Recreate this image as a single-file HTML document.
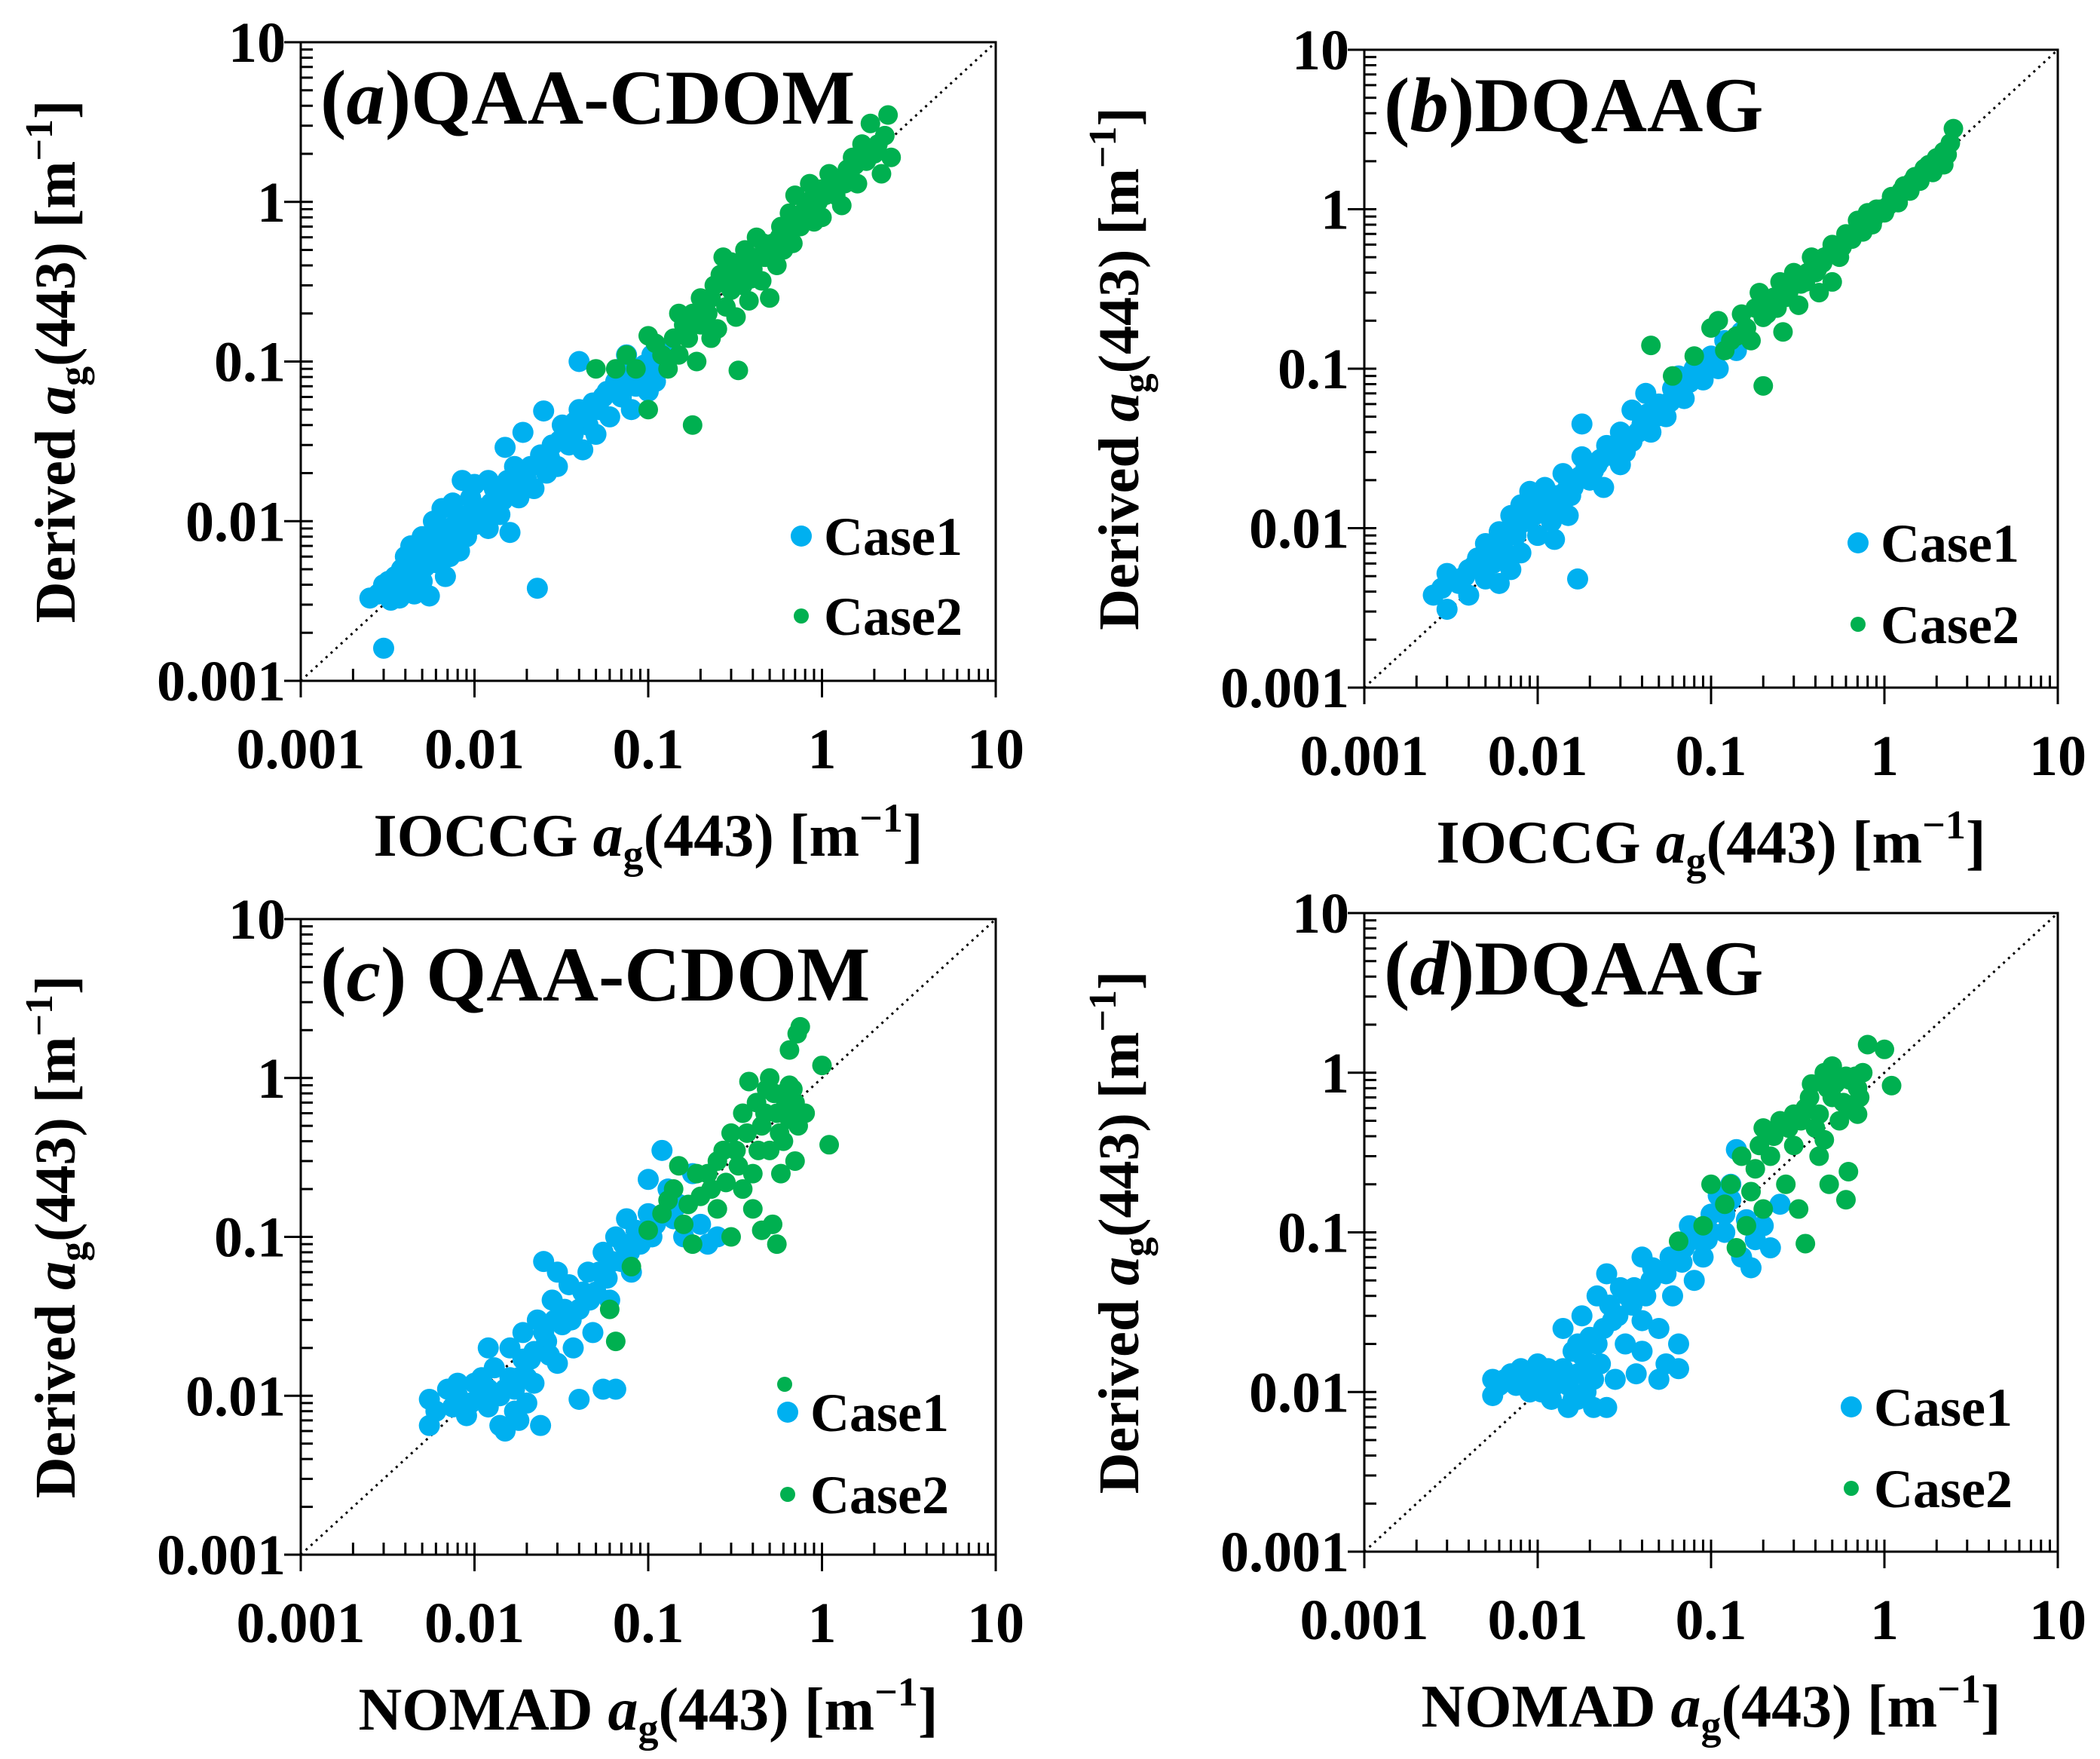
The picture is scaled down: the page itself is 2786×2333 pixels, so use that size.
<!DOCTYPE html>
<html><head><meta charset="utf-8"><style>
html,body{margin:0;padding:0;background:#fff;}
svg{display:block;font-family:"Liberation Serif",serif;font-weight:bold;}
svg text{font-family:"Liberation Serif",serif;font-weight:bold;}
</style></head><body>
<svg id="fig" width="2786" height="2333" viewBox="0 0 2786 2333" xmlns="http://www.w3.org/2000/svg"></svg>
<script>
const ticks = [0.001, 0.01, 0.1, 1, 10];
const tickLabels = ["0.001", "0.01", "0.1", "1", "10"];

const aCase1 = [[0.0025,0.0033],[0.0028,0.0035],[0.003,0.0016],[0.003,0.004],[0.0033,0.0032],[0.0035,0.0045],[0.0037,0.0033],[0.004,0.006],[0.004,0.0038],[0.0043,0.007],[0.0045,0.0035],[0.0047,0.005],[0.005,0.008],[0.005,0.0042],[0.0053,0.006],[0.0055,0.0034],[0.0058,0.01],[0.006,0.0055],[0.0062,0.0075],[0.0065,0.012],[0.0068,0.0045],[0.007,0.009],[0.0072,0.006],[0.0075,0.013],[0.008,0.0105],[0.0082,0.0065],[0.0085,0.018],[0.009,0.008],[0.0095,0.014],[0.01,0.017],[0.01,0.0095],[0.011,0.012],[0.012,0.018],[0.012,0.009],[0.013,0.016],[0.014,0.011],[0.015,0.029],[0.016,0.0085],[0.017,0.022],[0.018,0.014],[0.019,0.036],[0.02,0.018],[0.022,0.016],[0.023,0.0038],[0.024,0.026],[0.025,0.049],[0.026,0.02],[0.028,0.03],[0.03,0.022],[0.032,0.04],[0.035,0.03],[0.037,0.035],[0.04,0.1],[0.04,0.05],[0.042,0.028],[0.045,0.04],[0.048,0.055],[0.05,0.035],[0.055,0.06],[0.06,0.045],[0.065,0.075],[0.07,0.06],[0.075,0.11],[0.08,0.05],[0.085,0.07],[0.09,0.085],[0.1,0.065],[0.11,0.1],[0.12,0.12],[0.11,0.075],
[0.0032,0.0042],[0.0038,0.005],[0.0042,0.0045],[0.0046,0.0062],[0.0052,0.0052],[0.0057,0.0068],[0.0063,0.0085],[0.0067,0.0065],[0.0073,0.0078],[0.0078,0.0095],[0.0088,0.0088],[0.0092,0.011],[0.0105,0.0115],[0.0115,0.0105],[0.0125,0.013],[0.0135,0.0145],[0.0145,0.0135],[0.0155,0.018],[0.0165,0.016],[0.0175,0.019],[0.021,0.022],[0.027,0.025],[0.031,0.032],[0.034,0.038],[0.038,0.042],[0.044,0.048],[0.052,0.05],[0.058,0.065],[0.068,0.07],[0.078,0.085],[0.095,0.095],[0.105,0.11]];
const aCase2 = [[0.05,0.09],[0.065,0.09],[0.075,0.11],[0.085,0.09],[0.1,0.05],[0.1,0.145],[0.11,0.13],[0.13,0.09],[0.15,0.2],[0.15,0.11],[0.17,0.14],[0.18,0.04],[0.19,0.1],[0.2,0.17],[0.2,0.25],[0.22,0.2],[0.24,0.3],[0.25,0.16],[0.26,0.35],[0.28,0.22],[0.3,0.28],[0.3,0.42],[0.32,0.19],[0.33,0.088],[0.35,0.3],[0.36,0.5],[0.38,0.24],[0.4,0.38],[0.42,0.6],[0.45,0.32],[0.47,0.45],[0.5,0.25],[0.52,0.55],[0.55,0.4],[0.58,0.7],[0.6,0.5],[0.65,0.85],[0.68,0.55],[0.7,1.1],[0.75,0.7],[0.8,0.9],[0.85,1.3],[0.9,0.75],[0.95,1.0],[1.0,0.8],[1.1,1.5],[1.2,1.1],[1.3,0.95],[1.4,1.6],[1.5,1.9],[1.6,1.3],[1.7,2.3],[1.8,1.8],[1.9,3.1],[2.0,2.0],[2.2,1.5],[2.3,2.6],[2.4,3.5],[2.5,1.9],[0.23,0.14],[0.27,0.45],
[0.12,0.11],[0.14,0.14],[0.16,0.17],[0.18,0.2],[0.21,0.22],[0.23,0.25],[0.29,0.32],[0.31,0.35],[0.34,0.36],[0.37,0.4],[0.39,0.33],[0.43,0.45],[0.46,0.55],[0.49,0.48],[0.53,0.5],[0.57,0.6],[0.62,0.65],[0.67,0.7],[0.72,0.8],[0.78,0.85],[0.82,1.0],[0.88,0.9],[0.92,1.15],[0.98,1.2],[1.05,1.1],[1.15,1.3],[1.25,1.4],[1.35,1.3],[1.45,1.5],[1.55,1.7],[1.75,2.0],[2.1,2.3]];
const bCase1 = [[0.0025,0.0038],[0.003,0.0031],[0.003,0.0052],[0.0035,0.0045],[0.004,0.0055],[0.004,0.0038],[0.0045,0.0065],[0.005,0.0048],[0.005,0.008],[0.0055,0.006],[0.006,0.0095],[0.006,0.0045],[0.0065,0.007],[0.007,0.012],[0.007,0.0055],[0.0075,0.009],[0.008,0.014],[0.008,0.007],[0.0085,0.011],[0.009,0.017],[0.01,0.009],[0.01,0.013],[0.011,0.018],[0.012,0.011],[0.013,0.016],[0.014,0.022],[0.015,0.012],[0.016,0.018],[0.017,0.0048],[0.018,0.028],[0.018,0.045],[0.02,0.02],[0.022,0.025],[0.024,0.018],[0.025,0.033],[0.028,0.028],[0.03,0.04],[0.032,0.03],[0.035,0.055],[0.035,0.035],[0.04,0.045],[0.042,0.07],[0.045,0.04],[0.05,0.06],[0.055,0.05],[0.06,0.075],[0.065,0.09],[0.07,0.065],[0.08,0.1],[0.09,0.085],[0.1,0.12],[0.11,0.1],[0.12,0.15],[0.14,0.13],[0.15,0.17],[0.03,0.025],[0.015,0.02],[0.0125,0.0085],
[0.0028,0.0042],[0.0033,0.0048],[0.0038,0.005],[0.0043,0.0058],[0.0048,0.0062],[0.0053,0.0068],[0.0058,0.0072],[0.0063,0.0082],[0.0068,0.009],[0.0073,0.0095],[0.0078,0.0105],[0.0088,0.0115],[0.0095,0.012],[0.0105,0.014],[0.0115,0.015],[0.013,0.013],[0.0145,0.017],[0.0155,0.016],[0.0175,0.021],[0.019,0.024],[0.021,0.023],[0.023,0.027],[0.027,0.031],[0.031,0.035],[0.038,0.04],[0.043,0.052],[0.048,0.05],[0.058,0.062],[0.068,0.075],[0.075,0.082],[0.085,0.095],[0.095,0.1],[0.13,0.14]];
const bCase2 = [[0.045,0.14],[0.06,0.09],[0.08,0.12],[0.1,0.18],[0.11,0.2],[0.12,0.13],[0.14,0.16],[0.15,0.22],[0.17,0.15],[0.19,0.3],[0.2,0.078],[0.21,0.22],[0.23,0.28],[0.25,0.35],[0.26,0.17],[0.28,0.3],[0.3,0.4],[0.32,0.25],[0.35,0.35],[0.38,0.5],[0.4,0.4],[0.42,0.3],[0.45,0.5],[0.5,0.6],[0.55,0.5],[0.6,0.7],[0.65,0.65],[0.7,0.85],[0.75,0.72],[0.8,0.95],[0.85,0.8],[0.9,1.0],[1.0,0.95],[1.1,1.2],[1.2,1.1],[1.3,1.4],[1.4,1.3],[1.5,1.6],[1.6,1.5],[1.7,1.8],[1.9,1.7],[2.0,2.1],[2.2,1.9],[2.4,2.6],[2.5,3.2],[2.3,2.2],[0.5,0.35],[0.18,0.24],
[0.13,0.15],[0.16,0.18],[0.2,0.21],[0.22,0.25],[0.24,0.24],[0.27,0.28],[0.29,0.33],[0.33,0.34],[0.36,0.4],[0.41,0.42],[0.44,0.46],[0.48,0.52],[0.52,0.55],[0.57,0.58],[0.62,0.65],[0.68,0.72],[0.73,0.78],[0.78,0.82],[0.87,0.88],[0.95,1.0],[1.05,1.05],[1.15,1.15],[1.25,1.3],[1.35,1.35],[1.45,1.5],[1.65,1.65],[1.8,1.9],[2.1,2.0],[2.2,2.3]];
const cCase1 = [[0.0055,0.0065],[0.0055,0.0095],[0.006,0.008],[0.007,0.011],[0.0075,0.0085],[0.008,0.01],[0.009,0.0075],[0.01,0.012],[0.011,0.01],[0.012,0.0085],[0.013,0.015],[0.014,0.0065],[0.015,0.006],[0.015,0.011],[0.016,0.02],[0.017,0.008],[0.018,0.013],[0.019,0.025],[0.02,0.009],[0.021,0.017],[0.022,0.012],[0.023,0.03],[0.024,0.0065],[0.025,0.07],[0.026,0.022],[0.028,0.04],[0.03,0.016],[0.032,0.028],[0.035,0.05],[0.037,0.02],[0.04,0.035],[0.04,0.0095],[0.045,0.06],[0.048,0.025],[0.05,0.045],[0.055,0.011],[0.055,0.08],[0.06,0.04],[0.065,0.011],[0.065,0.1],[0.07,0.07],[0.075,0.13],[0.08,0.06],[0.085,0.11],[0.09,0.09],[0.1,0.23],[0.1,0.14],[0.11,0.12],[0.12,0.35],[0.13,0.2],[0.15,0.16],[0.18,0.25],[0.2,0.12],[0.22,0.09],[0.25,0.1],[0.16,0.1],[0.03,0.06],
[0.008,0.012],[0.0095,0.009],[0.011,0.013],[0.012,0.011],[0.014,0.01],[0.016,0.013],[0.017,0.011],[0.019,0.017],[0.02,0.013],[0.022,0.019],[0.025,0.025],[0.027,0.018],[0.029,0.03],[0.033,0.035],[0.036,0.03],[0.042,0.045],[0.046,0.04],[0.052,0.06],[0.058,0.055],[0.062,0.07],[0.072,0.09],[0.078,0.08],[0.095,0.11],[0.105,0.1],[0.14,0.13],[0.012,0.02],[0.018,0.007]];
const cCase2 = [[0.06,0.035],[0.065,0.022],[0.08,0.065],[0.1,0.11],[0.12,0.14],[0.14,0.2],[0.15,0.28],[0.16,0.12],[0.18,0.09],[0.2,0.18],[0.22,0.25],[0.25,0.3],[0.25,0.15],[0.28,0.22],[0.3,0.45],[0.32,0.35],[0.35,0.6],[0.35,0.2],[0.38,0.95],[0.4,0.25],[0.4,0.15],[0.42,0.7],[0.45,0.5],[0.45,0.11],[0.48,0.85],[0.5,0.35],[0.5,1.0],[0.52,0.12],[0.55,0.6],[0.55,0.09],[0.6,0.8],[0.6,0.4],[0.65,0.9],[0.65,0.55],[0.7,0.7],[0.7,0.3],[0.72,1.9],[0.75,2.1],[0.8,0.6],[0.65,1.5],[1.0,1.2],[1.1,0.38],[0.58,0.25],[0.3,0.1],
[0.13,0.17],[0.17,0.16],[0.19,0.25],[0.23,0.2],[0.27,0.35],[0.33,0.28],[0.37,0.45],[0.43,0.35],[0.47,0.6],[0.53,0.8],[0.57,0.45],[0.62,0.7],[0.68,0.85],[0.73,0.5]];
const dCase1 = [[0.0055,0.0095],[0.0055,0.012],[0.006,0.011],[0.007,0.013],[0.0075,0.011],[0.008,0.014],[0.009,0.01],[0.01,0.015],[0.011,0.011],[0.012,0.009],[0.013,0.012],[0.014,0.025],[0.015,0.008],[0.016,0.018],[0.017,0.009],[0.018,0.03],[0.019,0.013],[0.02,0.022],[0.021,0.008],[0.022,0.04],[0.023,0.015],[0.025,0.055],[0.025,0.008],[0.027,0.028],[0.028,0.012],[0.03,0.045],[0.032,0.02],[0.035,0.035],[0.037,0.013],[0.04,0.07],[0.04,0.018],[0.045,0.05],[0.05,0.025],[0.05,0.012],[0.055,0.015],[0.06,0.04],[0.065,0.02],[0.065,0.014],[0.07,0.08],[0.075,0.11],[0.08,0.05],[0.085,0.1],[0.09,0.07],[0.1,0.13],[0.11,0.17],[0.12,0.1],[0.13,0.2],[0.14,0.33],[0.15,0.07],[0.16,0.12],[0.17,0.06],[0.18,0.09],[0.2,0.11],[0.22,0.08],[0.25,0.15],[0.1,0.1],[0.04,0.028],
[0.0065,0.012],[0.0085,0.012],[0.0095,0.013],[0.0105,0.01],[0.0115,0.014],[0.0125,0.011],[0.014,0.014],[0.015,0.011],[0.016,0.009],[0.017,0.013],[0.018,0.017],[0.019,0.01],[0.02,0.015],[0.021,0.012],[0.022,0.02],[0.024,0.025],[0.026,0.035],[0.029,0.03],[0.033,0.04],[0.036,0.045],[0.042,0.04],[0.046,0.06],[0.055,0.055],[0.058,0.07],[0.068,0.065],[0.078,0.09],[0.095,0.09],[0.12,0.13],[0.13,0.16],[0.017,0.02]];
const dCase2 = [[0.065,0.088],[0.09,0.11],[0.1,0.2],[0.12,0.15],[0.14,0.08],[0.15,0.3],[0.16,0.11],[0.18,0.25],[0.2,0.14],[0.2,0.45],[0.22,0.3],[0.25,0.5],[0.27,0.2],[0.3,0.35],[0.32,0.14],[0.35,0.085],[0.35,0.6],[0.38,0.85],[0.4,0.45],[0.42,0.3],[0.45,1.0],[0.48,0.2],[0.5,0.7],[0.5,1.1],[0.55,0.5],[0.55,0.9],[0.6,0.16],[0.6,0.95],[0.62,0.24],[0.65,0.6],[0.7,0.8],[0.7,0.55],[0.75,1.0],[0.8,1.5],[1.0,1.4],[1.1,0.83],[0.3,0.55],[0.45,0.38],
[0.13,0.2],[0.17,0.18],[0.19,0.35],[0.23,0.4],[0.28,0.45],[0.33,0.5],[0.37,0.7],[0.42,0.55],[0.47,0.8],[0.52,0.85],[0.58,0.65],[0.63,0.9],[0.68,0.95],[0.72,0.7]];

const NS = "http://www.w3.org/2000/svg";
const svg = document.getElementById('fig');
function mk(tag, attrs, parent){ const e=document.createElementNS(NS,tag); for(const k in attrs) e.setAttribute(k,attrs[k]); (parent||svg).appendChild(e); return e; }

const BLUE="#00B0F0", GREEN="#00B050";
const FONT='Liberation Serif, serif';
const panels = [
  {id:'a', L:399,R:1321,T:56,B:903, c1:aCase1, c2:aCase2, lab:'a', title:'QAA-CDOM', sp:false, xt:'IOCCG', leg:[1063,711,817], extra:false},
  {id:'b', L:1810,R:2730,T:66,B:912, c1:bCase1, c2:bCase2, lab:'b', title:'DQAAG', sp:false, xt:'IOCCG', leg:[2465,720,828], extra:false},
  {id:'c', L:399,R:1321,T:1219,B:2062, c1:cCase1, c2:cCase2, lab:'c', title:'QAA-CDOM', sp:true, xt:'NOMAD', leg:[1045,1873,1982], extra:true},
  {id:'d', L:1810,R:2730,T:1211,B:2058, c1:dCase1, c2:dCase2, lab:'d', title:'DQAAG', sp:false, xt:'NOMAD', leg:[2456,1866,1974], extra:false}
];

panels.forEach(p=>{
  const g = mk('g',{'font-family':FONT,'font-weight':'bold'});
  
  
  const xs = v => p.L + (Math.log10(v)+3)/4*(p.R-p.L);
  const ys = v => p.B - (Math.log10(v)+3)/4*(p.B-p.T);
  const fr = mk('rect',{x:p.L,y:p.T,width:p.R-p.L,height:p.B-p.T,fill:'none',stroke:'#000','stroke-width':3},g);
  
  
  for(let d=0; d<4; d++){
    const base = ticks[d];
    for(let m=2;m<=9;m++){
      const v=base*m;
      mk('line',{x1:xs(v),x2:xs(v),y1:p.B,y2:p.B-16,stroke:'#000','stroke-width':3},g);
      mk('line',{x1:p.L,x2:p.L+16,y1:ys(v),y2:ys(v),stroke:'#000','stroke-width':3},g);
    }
  }
  ticks.forEach((v,i)=>{
    mk('line',{x1:xs(v),x2:xs(v),y1:p.B-16,y2:p.B+22,stroke:'#000','stroke-width':3},g);
    mk('line',{x1:p.L-22,x2:p.L+16,y1:ys(v),y2:ys(v),stroke:'#000','stroke-width':3},g);
    const tx = mk('text',{x:xs(v),y:p.B+116,'font-size':76,'text-anchor':'middle'},g);
    tx.textContent = tickLabels[i];
    
    
    const ty = mk('text',{x:p.L-20,y:ys(v)+26,'font-size':76,'text-anchor':'end'},g);
    ty.textContent = tickLabels[i];
    
    
  });
  const ol = mk('line',{x1:xs(0.001),y1:ys(0.001),x2:xs(10),y2:ys(10),stroke:'#000','stroke-width':3,'stroke-dasharray':'3,6'},g);
  
  
  p.c1.forEach(pt=>{
    const c = mk('circle',{cx:xs(pt[0]),cy:ys(pt[1]),r:14,fill:BLUE},g);
    
    
  });
  p.c2.forEach(pt=>{
    const c = mk('circle',{cx:xs(pt[0]),cy:ys(pt[1]),r:13,fill:GREEN},g);
    
    
  });
  const tt = mk('text',{x:p.L+26,y:p.T+108,'font-size':103},g);
  
  
  tt.innerHTML = '(<tspan font-style="italic">'+p.lab+'</tspan>)'+(p.sp?' ':'')+p.title;
  const lc1 = mk('circle',{cx:p.leg[0],cy:p.leg[1],r:14,fill:BLUE},g);
  
  
  const lt1 = mk('text',{x:p.leg[0]+30,y:p.leg[1]+25,'font-size':72},g);
  lt1.textContent='Case1';
  
  
  const lc2 = mk('circle',{cx:p.leg[0],cy:p.leg[2],r:10,fill:GREEN},g);
  
  
  const lt2 = mk('text',{x:p.leg[0]+30,y:p.leg[2]+25,'font-size':72},g);
  lt2.textContent='Case2';
  
  
  if(p.extra){
    const ex = mk('circle',{cx:p.leg[0]-4,cy:p.leg[1]-37,r:10,fill:GREEN},g);
    
    
  }
  const xtl = mk('text',{x:(p.L+p.R)/2,y:p.B+232,'font-size':80,'text-anchor':'middle'},g);
  
  
  xtl.innerHTML = p.xt+' <tspan font-style="italic">a</tspan><tspan font-size="54" dy="16">g</tspan><tspan dy="-16">(443) [m</tspan><tspan font-size="54" dy="-32">−1</tspan><tspan dy="32">]</tspan>';
  const cy = (p.T+p.B)/2, cx = p.L-300;
  const ytl = mk('text',{x:cx,y:cy,'font-size':76,'text-anchor':'middle',transform:'rotate(-90 '+cx+' '+cy+')'},g);
  
  
  ytl.innerHTML = 'Derived <tspan font-style="italic">a</tspan><tspan font-size="52" dy="15">g</tspan><tspan dy="-15">(443) [m</tspan><tspan font-size="52" dy="-30">−1</tspan><tspan dy="30">]</tspan>';
});
</script>
</body></html>
